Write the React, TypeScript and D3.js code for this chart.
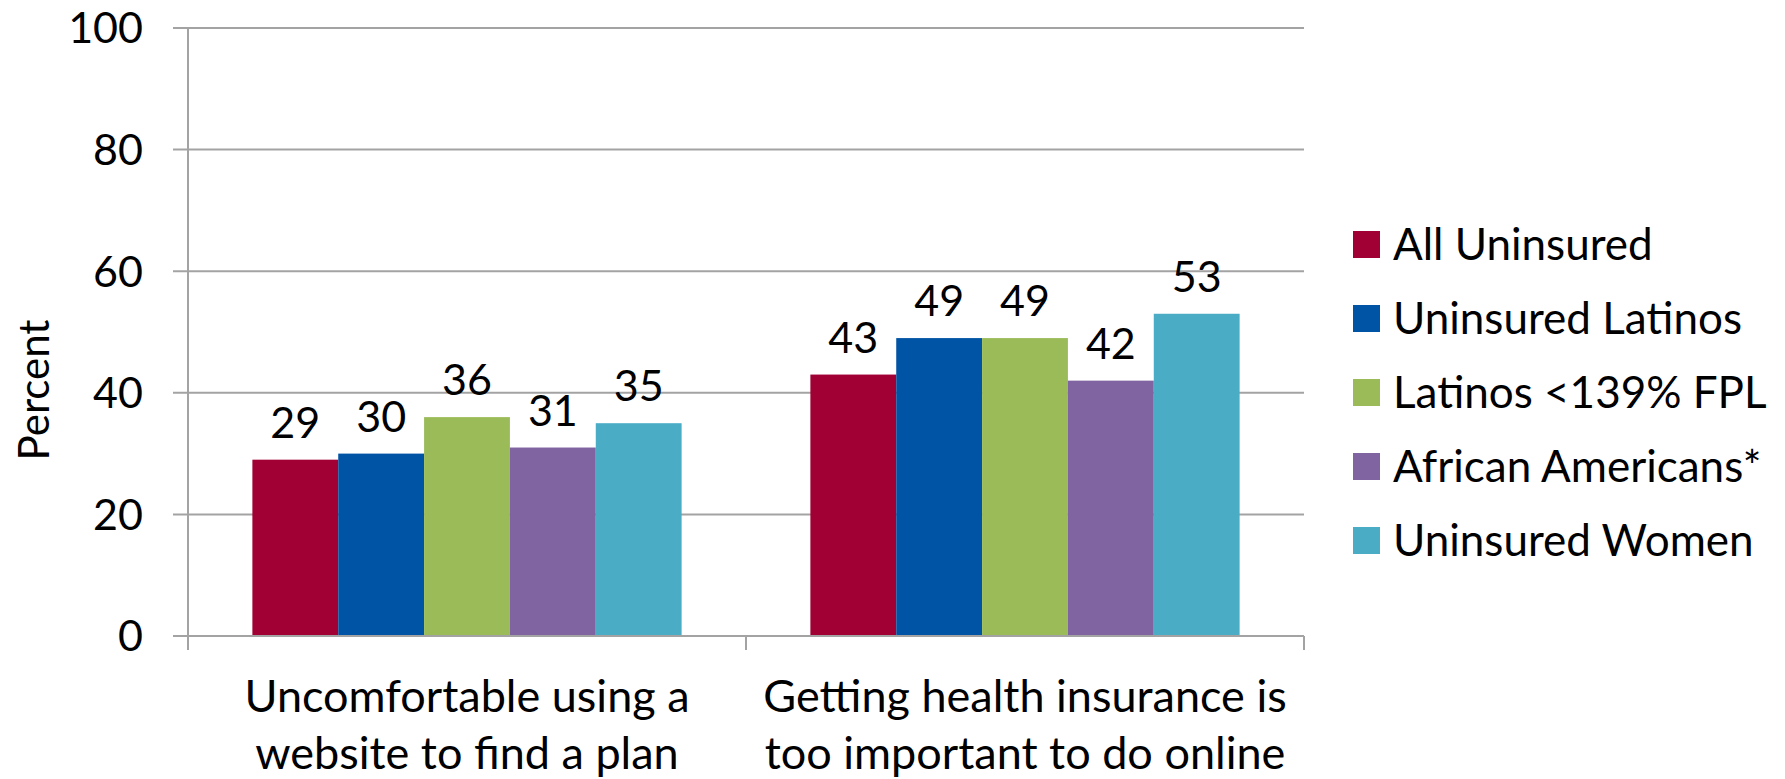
import * as d3 from 'd3';

const categories = [
  ['Uncomfortable using a', 'website to find a plan'],
  ['Getting health insurance is', 'too important to do online'],
];
const seriesNames = [
  'All Uninsured',
  'Uninsured Latinos',
  'Latinos <139% FPL',
  'African Americans*',
  'Uninsured Women',
];
const allUninsured = [29, 43];
const uninsuredLatinos = [30, 49];
const latinosFpl = [36, 49];
const africanAmericans = [31, 42];
const uninsuredWomen = [35, 53];
const seriesColors = ['#A10034', '#0054A5', '#9BBB59', '#8064A2', '#4BACC6'];
const yTicks = [0, 20, 40, 60, 80, 100];

const W = 1785;
const H = 779;
const FONT = 'Lato, "Open Sans", sans-serif';

const App = () => {
  const values = [allUninsured, uninsuredLatinos, latinosFpl, africanAmericans, uninsuredWomen];

  const x0 = d3.scaleBand<number>().domain(d3.range(categories.length)).range([188, 1304]);
  const x1 = d3
    .scaleBand<number>()
    .domain(d3.range(seriesNames.length))
    .range([0, x0.bandwidth()])
    .paddingInner(0)
    .paddingOuter(0.75);
  const y = d3.scaleLinear().domain([0, 100]).range([636, 28]);

  const grid = '#a3a3a3';
  const left = x0.range()[0];
  const right = x0.range()[1];

  return (
    <svg
      width={W}
      height={H}
      style={{ position: 'absolute', left: 0, top: 0, background: '#fff' }}
      fontFamily={FONT}
    >
      {/* gridlines + y ticks */}
      {yTicks.map(t => (
        <g key={t}>
          <line x1={left - 15} x2={right} y1={y(t)} y2={y(t)} stroke={grid} strokeWidth={2} />
          <text x={143} y={y(t)} dy="0.36em" textAnchor="end" fontSize={43} fill="#000">
            {t}
          </text>
        </g>
      ))}
      {/* y axis line */}
      <line x1={left} x2={left} y1={y(100)} y2={650} stroke={grid} strokeWidth={2} />
      {/* x category ticks */}
      {d3.range(categories.length + 1).map(i => {
        const xx = i < categories.length ? x0(i)! : right;
        return <line key={i} x1={xx} x2={xx} y1={y(0)} y2={650} stroke={grid} strokeWidth={2} />;
      })}

      {/* bars */}
      {categories.map((_, ci) =>
        seriesNames.map((_, si) => {
          const v = values[si][ci];
          const bx = x0(ci)! + x1(si)!;
          return (
            <g key={`${ci}-${si}`}>
              <rect
                x={bx}
                y={y(v)}
                width={x1.bandwidth()}
                height={y(0) - y(v)}
                fill={seriesColors[si]}
              />
              <text
                x={bx + x1.bandwidth() / 2}
                y={y(v) - 22}
                textAnchor="middle"
                fontSize={43}
                fill="#000"
              >
                {v}
              </text>
            </g>
          );
        })
      )}
      {/* redraw baseline over bars */}
      <line x1={left - 15} x2={right} y1={y(0)} y2={y(0)} stroke={grid} strokeWidth={2} />

      {/* category labels */}
      {categories.map((lines, ci) => (
        <text
          key={ci}
          x={x0(ci)! + x0.bandwidth() / 2}
          textAnchor="middle"
          fontSize={45}
          fill="#000"
        >
          {lines.map((l, li) => (
            <tspan key={li} x={x0(ci)! + x0.bandwidth() / 2} y={712 + li * 57}>
              {l}
            </tspan>
          ))}
        </text>
      ))}

      {/* y axis title */}
      <text
        transform="translate(49,390) rotate(-90)"
        textAnchor="middle"
        fontSize={42}
        fill="#000"
      >
        Percent
      </text>

      {/* legend */}
      {seriesNames.map((name, i) => {
        const cy = 244.5 + i * 74;
        return (
          <g key={name}>
            <rect x={1353} y={cy - 13.5} width={27} height={27} fill={seriesColors[i]} />
            <text x={1393} y={cy} dy="0.36em" fontSize={44} fill="#000">
              {name}
            </text>
          </g>
        );
      })}
    </svg>
  );
};

export default App;
